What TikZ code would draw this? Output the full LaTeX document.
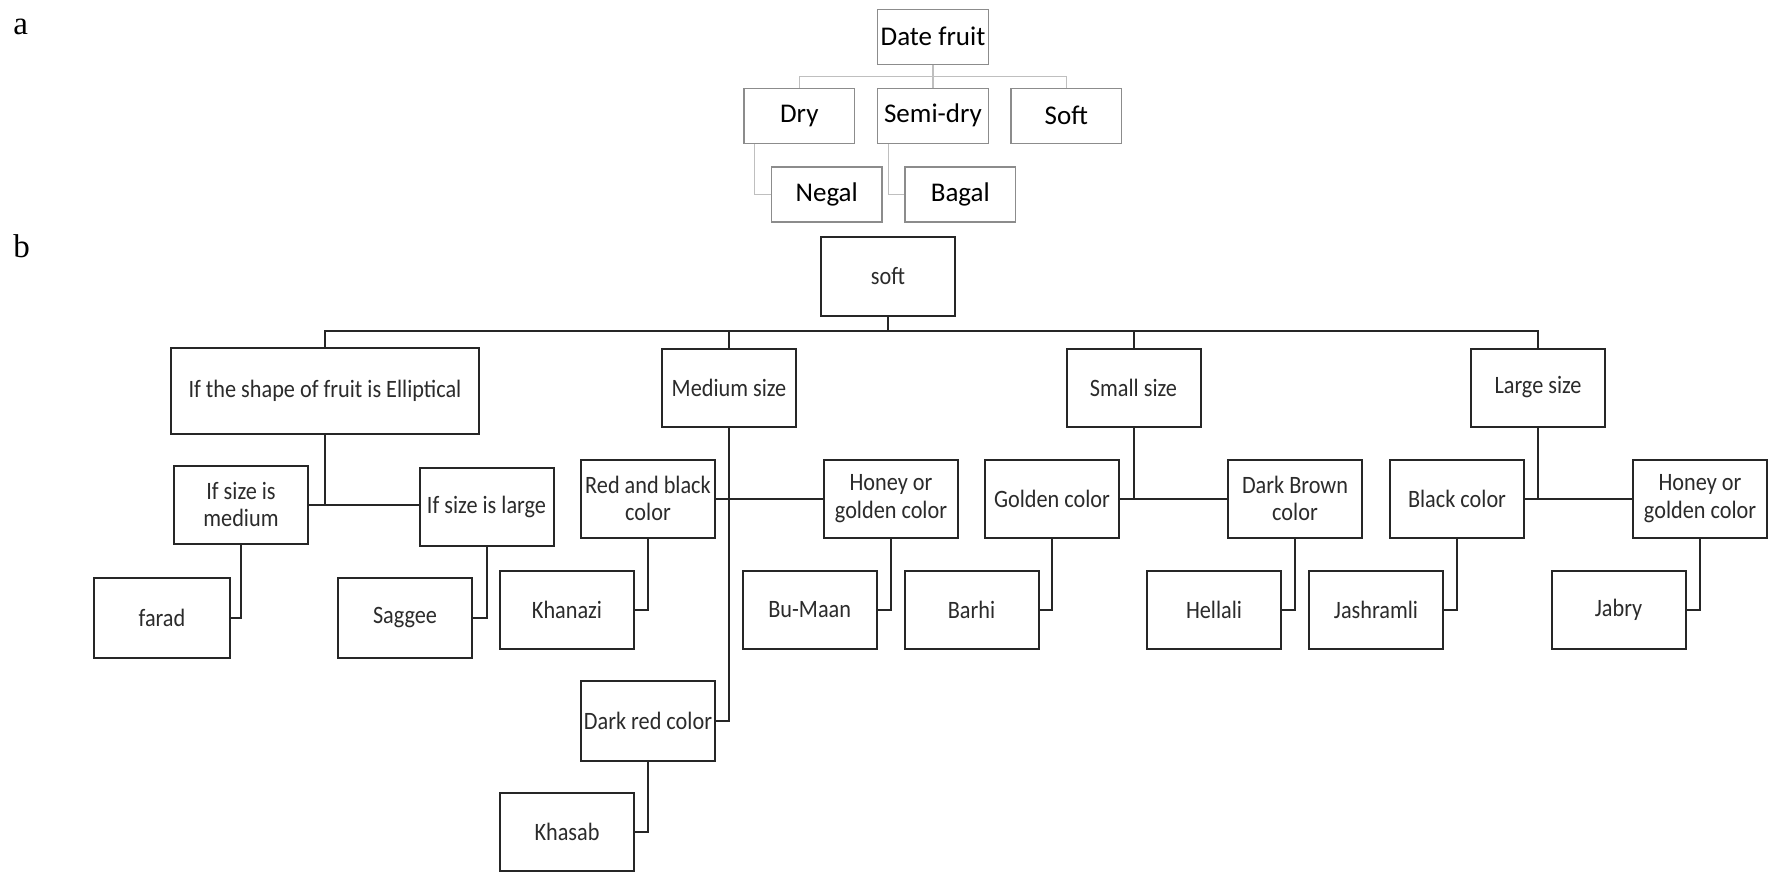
\documentclass[tikz,border=0pt]{standalone}
\usepackage{fontspec}
\setmainfont{Carlito}
\newfontfamily\bfont[FakeStretch=0.89]{Carlito}
\newfontfamily\labelfont{Liberation Serif}
\usetikzlibrary{calc}
\definecolor{linea}{HTML}{BFBFBF}
\definecolor{boxa}{HTML}{8C8C8C}
\definecolor{lineb}{HTML}{262626}
\definecolor{textb}{HTML}{2B2B2B}
\begin{document}
\begin{tikzpicture}[x=0.5pt,y=-0.5pt,
  abox/.style={draw=boxa, line width=0.6pt, minimum width=55.3pt, minimum height=27.5pt, inner sep=0pt, font=\fontsize{13.5}{16}\selectfont, text=black},
  aline/.style={draw=linea, line width=0.6pt},
  bbox/.style={draw=lineb, line width=1pt, minimum width=67pt, minimum height=39pt, inner sep=0pt, align=center, font=\bfont\fontsize{12.5}{13.85}\selectfont, text=textb},
  bline/.style={draw=lineb, line width=1pt},
  tag/.style={anchor=base west, inner sep=0pt, font=\labelfont\fontsize{16.5}{18}\selectfont}
]
\useasboundingbox[fill=white] (0,0) rectangle (1776,872);

% labels
\node[tag] (la) at (13,35) {a};
\node[tag] (lb) at (13,257) {b};

% ---------- part a ----------
\node[abox] (date) at (933,36.8) {Date fruit};
\node[abox] (dry) at (799.3,115.8) {Dry};
\node[abox] (semi) at (933,115.8) {Semi-dry};
\node[abox] (softa) at (1066.3,115.8) {Soft};
\node[abox] (negal) at (826.7,194.5) {Negal};
\node[abox] (bagal) at (960.3,194.5) {Bagal};

\coordinate (busa) at (933,76.7);
\draw[aline] (date.south) -- (semi.north);
\draw[aline] (dry.north) |- (busa) -| (softa.north);
\draw[aline] ($(dry.south west)+(11,0)$) |- (negal.west);
\draw[aline] ($(semi.south west)+(11,0)$) |- (bagal.west);

% ---------- part b ----------
\node[bbox, minimum height=39.2pt] (softb) at (888,276.5) {soft};
\node[bbox, minimum width=154pt, minimum height=43pt] (ell) at (325,391) {If the shape of fruit is Elliptical};
\node[bbox] (med) at (729,387.5) {Medium size};
\node[bbox] (small) at (1133.5,387.5) {Small size};
\node[bbox] (large) at (1538,387.5) {Large size};

\node[bbox] (ifmed) at (241,504.5) {If size is\\medium};
\node[bbox] (iflarge) at (486.5,506.5) {If size is large};
\node[bbox, minimum width=68pt, minimum height=40pt] (farad) at (162,617.7) {farad};
\node[bbox, minimum height=40pt] (saggee) at (405,617.7) {Saggee};

\node[bbox] (rb) at (648,498.5) {Red and black\\color};
\node[bbox] (honey1) at (891,498.5) {Honey or\\golden color};
\node[bbox] (golden) at (1052,498.5) {Golden color};
\node[bbox] (dbrown) at (1295,498.5) {Dark Brown\\color};
\node[bbox] (black) at (1457,498.5) {Black color};
\node[bbox] (honey2) at (1700,498.5) {Honey or\\golden color};

\node[bbox] (khanazi) at (567,610) {Khanazi};
\node[bbox] (bumaan) at (809.7,610) {Bu-Maan};
\node[bbox] (barhi) at (971.5,610) {Barhi};
\node[bbox] (hellali) at (1214,610) {Hellali};
\node[bbox] (jash) at (1376,610) {Jashramli};
\node[bbox] (jabry) at (1618.5,610) {Jabry};

\node[bbox, minimum height=40pt] (darkred) at (648,720.7) {Dark red color};
\node[bbox] (khasab) at (567,831.7) {Khasab};

\coordinate (busb) at (888,330.7);
\draw[bline] (softb.south) -- (busb);
\draw[bline] (ell.north) |- (busb) -| (large.north);
\draw[bline] (med.north) -- (med.north |- busb);
\draw[bline] (small.north) -- (small.north |- busb);

% elliptical branch
\draw[bline] (ell.south) -- (ell.south |- ifmed.east);
\draw[bline] (ifmed.east) -- (iflarge.west |- ifmed.east);
\draw[bline] (ifmed.south) |- (farad.east);
\draw[bline] (iflarge.south) |- (saggee.east);

% medium branch
\draw[bline] (med.south) |- (darkred.east);
\draw[bline] (rb.east) -- (honey1.west);
\draw[bline] (rb.south) |- (khanazi.east);
\draw[bline] (honey1.south) |- (bumaan.east);
\draw[bline] (darkred.south) |- (khasab.east);

% small branch
\draw[bline] (small.south) -- (small.south |- golden.east);
\draw[bline] (golden.east) -- (dbrown.west);
\draw[bline] (golden.south) |- (barhi.east);
\draw[bline] (dbrown.south) |- (hellali.east);

% large branch
\draw[bline] (large.south) -- (large.south |- black.east);
\draw[bline] (black.east) -- (honey2.west);
\draw[bline] (black.south) |- (jash.east);
\draw[bline] (honey2.south) |- (jabry.east);
\end{tikzpicture}
\end{document}
